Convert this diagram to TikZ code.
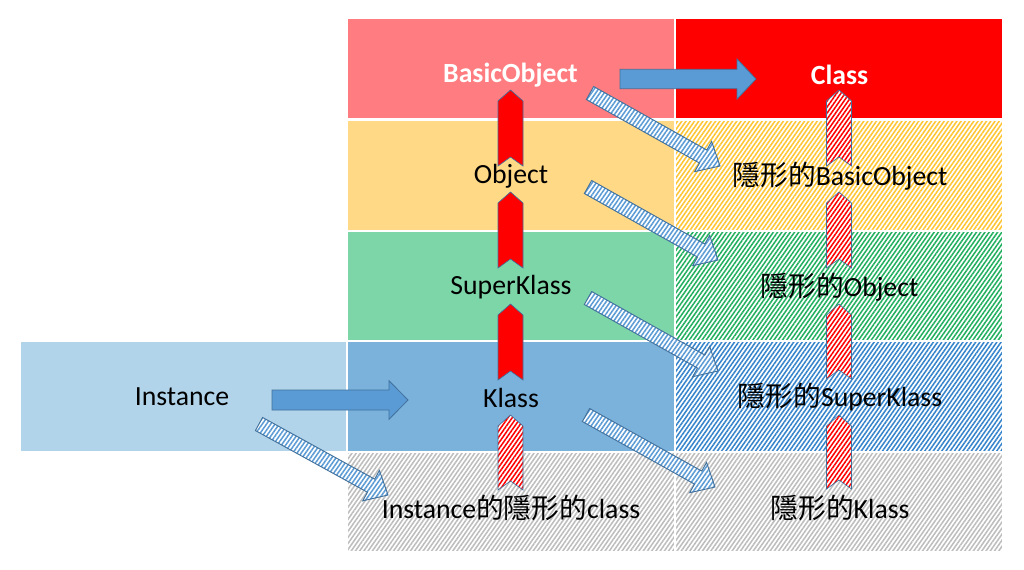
\documentclass[tikz,border=0pt]{standalone}
\usepackage{fontspec}
\setmainfont{Carlito}
\newfontfamily\cjk{Noto Sans CJK TC}
\usetikzlibrary{calc,patterns.meta}

\definecolor{rowred}{HTML}{FF7C80}
\definecolor{clsred}{HTML}{FF0000}
\definecolor{rowyel}{HTML}{FFD985}
\definecolor{rowgrn}{HTML}{7DD6A8}
\definecolor{rowblu}{HTML}{7BB2DC}
\definecolor{instblu}{HTML}{B1D4EA}
\definecolor{hyel}{HTML}{FFC532}
\definecolor{hgrn}{HTML}{22B060}
\definecolor{hblu}{HTML}{3584CC}
\definecolor{hgry}{HTML}{BDBDBD}
\definecolor{arrblu}{HTML}{5B9BD5}
\definecolor{arredge}{HTML}{41719C}

\tikzset{
  cell/.style={draw=white, line width=1.2pt},
  hatch/.style={preaction={fill=white}, pattern={Lines[angle=55,distance=2.6pt,line width=1.15pt]}, pattern color=#1},
  lbl/.style={font=\fontsize{20.8}{24}\selectfont, text=black, inner sep=0pt},
  wlbl/.style={font=\fontsize{20.8}{24}\selectfont\bfseries, text=white, inner sep=0pt},
  solidarrow/.style={fill=arrblu, draw=arredge, line width=0.6pt},
  hatcharrow/.style={hatch=arrblu, draw=arredge, line width=0.7pt},
  redchev/.style={fill=clsred, draw=arredge, line width=0.5pt},
  hredchev/.style={hatch=clsred, draw=arredge, line width=0.5pt},
}

% style, start, end, half shaft, half head, head length
\newcommand\blockarrow[6]{%
  \coordinate (#2-#3-h) at ($(#3)!#6!(#2)$);
  \path[#1] ($(#2)!#4!90:(#3)$) -- ($(#2-#3-h)!#4!90:(#3)$) -- ($(#2-#3-h)!#5!90:(#3)$)
    -- (#3) -- ($(#2-#3-h)!#5!-90:(#3)$) -- ($(#2-#3-h)!#4!-90:(#3)$) -- ($(#2)!#4!-90:(#3)$) -- cycle;}

% style, bottom, top
\newcommand\chevron[3]{%
  \path[#1] ($(#2)+(-12.5,0)$) -- ($(#3)+(-12.5,11)$) -- (#3) -- ($(#3)+(12.5,11)$)
    -- ($(#2)+(12.5,0)$) -- ($(#2)+(0,-9)$) -- cycle;}

\begin{document}
\begin{tikzpicture}[x=0.75pt,y=-0.75pt]
\useasboundingbox (0,0) rectangle (1024,569);

% cells
\path[cell, fill=rowred] (347,18) rectangle (675,119);
\path[cell, fill=clsred] (675,18) rectangle (1003,119);
\path[cell, fill=rowyel] (347,120) rectangle (675,231);
\path[cell, hatch=hyel] (675,120) rectangle (1003,231);
\path[cell, fill=rowgrn] (347,231) rectangle (675,341);
\path[cell, hatch=hgrn] (675,231) rectangle (1003,341);
\path[cell, fill=rowblu] (347,341) rectangle (675,452);
\path[cell, hatch=hblu] (675,341) rectangle (1003,452);
\path[cell, hatch=hgry] (347,452) rectangle (675,552);
\path[cell, hatch=hgry] (675,452) rectangle (1003,552);
\path[cell, fill=instblu] (20,341) rectangle (347,452);

% coordinates for connectors
\coordinate (a1s) at (620,79);   \coordinate (a1e) at (756,79);
\coordinate (a2s) at (272,400);  \coordinate (a2e) at (408,400);
\coordinate (d1s) at (590,93);   \coordinate (d1e) at (720,166);
\coordinate (d2s) at (588,187);  \coordinate (d2e) at (718,260);
\coordinate (d3s) at (588,298);  \coordinate (d3e) at (718,371);
\coordinate (d4s) at (586,415);  \coordinate (d4e) at (715,487);
\coordinate (d5s) at (259,424);  \coordinate (d5e) at (388,495);

\coordinate (l1b) at (510.5,166); \coordinate (l1t) at (510.5,90);
\coordinate (l2b) at (510.5,268); \coordinate (l2t) at (510.5,192);
\coordinate (l3b) at (510.5,380); \coordinate (l3t) at (510.5,304);
\coordinate (l4b) at (510.5,490); \coordinate (l4t) at (510.5,415);
\coordinate (r1b) at (839,166);   \coordinate (r1t) at (839,90);
\coordinate (r2b) at (839,268);   \coordinate (r2t) at (839,192);
\coordinate (r3b) at (839,379);   \coordinate (r3t) at (839,304);
\coordinate (r4b) at (839,489);   \coordinate (r4t) at (839,415);

% chevrons
\chevron{redchev}{l1b}{l1t}
\chevron{redchev}{l2b}{l2t}
\chevron{redchev}{l3b}{l3t}
\chevron{hredchev}{l4b}{l4t}
\chevron{hredchev}{r1b}{r1t}
\chevron{hredchev}{r2b}{r2t}
\chevron{hredchev}{r3b}{r3t}
\chevron{hredchev}{r4b}{r4t}

% horizontal arrows
\blockarrow{solidarrow}{a1s}{a1e}{7.3pt}{15pt}{14.25pt}
\blockarrow{solidarrow}{a2s}{a2e}{7.5pt}{14.5pt}{14.25pt}

% diagonal hatched arrows
\blockarrow{hatcharrow}{d1s}{d1e}{5.6pt}{13pt}{14.5pt}
\blockarrow{hatcharrow}{d2s}{d2e}{5.6pt}{13pt}{14.5pt}
\blockarrow{hatcharrow}{d3s}{d3e}{5.6pt}{13pt}{14.5pt}
\blockarrow{hatcharrow}{d4s}{d4e}{5.6pt}{13pt}{14.5pt}
\blockarrow{hatcharrow}{d5s}{d5e}{5.6pt}{13pt}{14.5pt}

% labels
\node[wlbl] (bo)  at (510.5,75) {BasicObject};
\node[wlbl] (cls) at (839.5,75) {Class};
\node[lbl]  (obj) at (511,176) {Object};
\node[lbl]  (sk)  at (511,287) {SuperKlass};
\node[lbl]  (kl)  at (511,398) {Klass};
\node[lbl]  (inst) at (182,397) {Instance};
\node[lbl]  (ihc) at (511,508) {Instance{\cjk 的隱形的}class};
\node[lbl]  (hbo) at (840,176) {{\cjk 隱形的}BasicObject};
\node[lbl]  (hobj) at (839.5,287) {{\cjk 隱形的}Object};
\node[lbl]  (hsk) at (840,397) {{\cjk 隱形的}SuperKlass};
\node[lbl]  (hkl) at (840,508) {{\cjk 隱形的}Klass};
\end{tikzpicture}
\end{document}
